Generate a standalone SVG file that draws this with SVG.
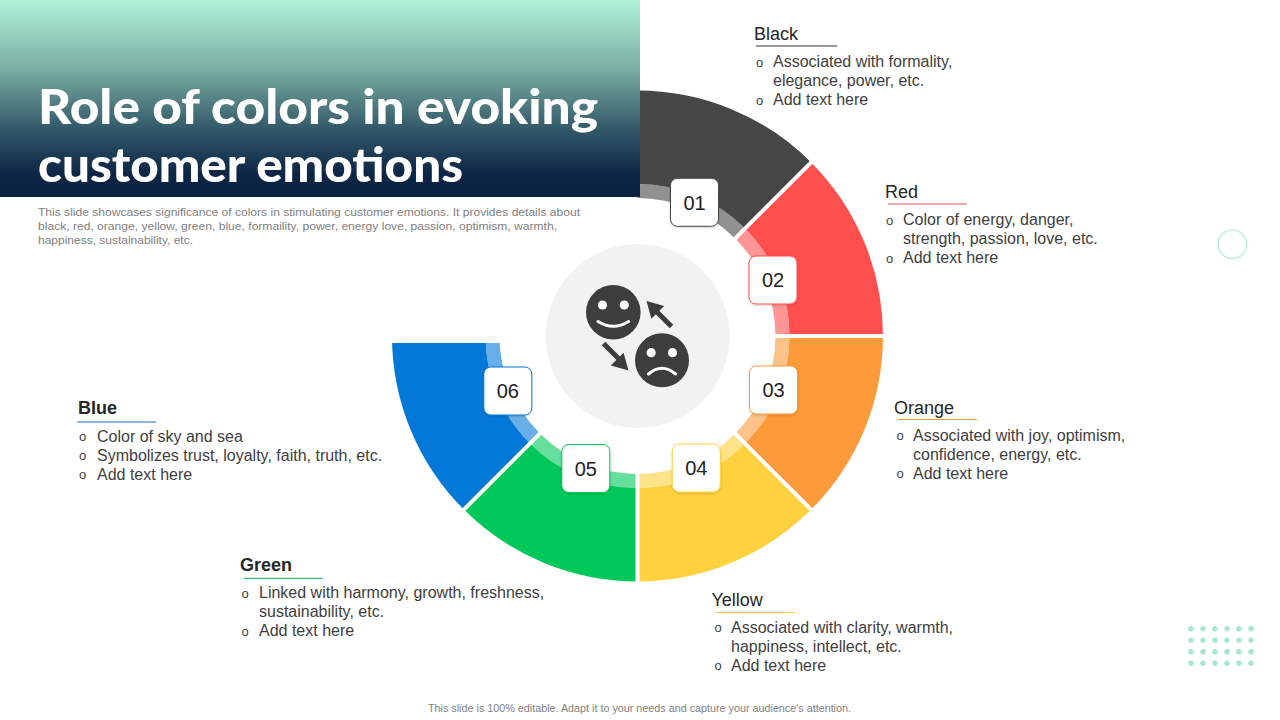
<svg xmlns="http://www.w3.org/2000/svg" width="1280" height="720" viewBox="0 0 1280 720">
<defs>
<linearGradient id="tg" x1="0" y1="0" x2="0" y2="1">
<stop offset="0" stop-color="#aef2d6"/>
<stop offset="0.35" stop-color="#7aaea2"/>
<stop offset="0.65" stop-color="#335a6a"/>
<stop offset="0.88" stop-color="#0d2645"/>
<stop offset="1" stop-color="#0b2242"/>
</linearGradient>
<filter id="sh" x="-20%" y="-20%" width="140%" height="140%">
<feDropShadow dx="0" dy="1" stdDeviation="1" flood-color="#000" flood-opacity="0.18"/>
</filter>
</defs>
<style>
.txt{font-family:"Liberation Sans",Arial,sans-serif;fill:#404040;font-size:16px}
.hd{font-family:"Liberation Sans",Arial,sans-serif;fill:#262626;font-size:18px}
.hdb{font-weight:bold}
.bul{font-family:"Liberation Sans",Arial,sans-serif;fill:#404040;font-size:13px}
.num{font-family:"Liberation Sans",Arial,sans-serif;fill:#222;font-size:20px;text-anchor:middle}
.box{fill:#fff;stroke-width:1}
.lt{fill-opacity:0.6}
.sep{stroke:#fff;stroke-width:4}
.face{fill:#3d3d3d}
.desc{font-family:"Liberation Sans",Arial,sans-serif;fill:#7f7f7f;font-size:11px}
.ttl{font-family:Lato,"Open Sans",sans-serif;font-weight:900;font-size:48px;fill:#fff}
</style>
<rect width="1280" height="720" fill="#fff"/>

<g id="ring">
<g id="seg-black" fill="#474747">
<path d="M637.5,90.5 A245.5,245.5 0 0 1 811.1,162.4 L744.98,228.52 A152,152 0 0 0 637.5,184 Z"/>
<path class="lt" d="M637.5,184 A152,152 0 0 1 744.98,228.52 L735.08,238.42 A138,138 0 0 0 637.5,198 Z"/>
</g>
<g id="seg-red" fill="#ff4f4f">
<path d="M811.1,162.4 A245.5,245.5 0 0 1 883,336 L789.5,336 A152,152 0 0 0 744.98,228.52 Z"/>
<path class="lt" d="M744.98,228.52 A152,152 0 0 1 789.5,336 L775.5,336 A138,138 0 0 0 735.08,238.42 Z"/>
</g>
<g id="seg-orange" fill="#fd9b3b">
<path d="M883,336 A245.5,245.5 0 0 1 811.1,509.6 L744.98,443.48 A152,152 0 0 0 789.5,336 Z"/>
<path class="lt" d="M789.5,336 A152,152 0 0 1 744.98,443.48 L735.08,433.58 A138,138 0 0 0 775.5,336 Z"/>
</g>
<g id="seg-yellow" fill="#ffd13e">
<path d="M811.1,509.6 A245.5,245.5 0 0 1 637.5,581.5 L637.5,488 A152,152 0 0 0 744.98,443.48 Z"/>
<path class="lt" d="M744.98,443.48 A152,152 0 0 1 637.5,488 L637.5,474 A138,138 0 0 0 735.08,433.58 Z"/>
</g>
<g id="seg-green" fill="#00c85a">
<path d="M637.5,581.5 A245.5,245.5 0 0 1 463.9,509.6 L530.02,443.48 A152,152 0 0 0 637.5,488 Z"/>
<path class="lt" d="M637.5,488 A152,152 0 0 1 530.02,443.48 L539.92,433.58 A138,138 0 0 0 637.5,474 Z"/>
</g>
<g id="seg-blue" fill="#0279d8">
<path d="M463.9,509.6 A245.5,245.5 0 0 1 392,336 L485.5,336 A152,152 0 0 0 530.02,443.48 Z"/>
<path class="lt" d="M530.02,443.48 A152,152 0 0 1 485.5,336 L499.5,336 A138,138 0 0 0 539.92,433.58 Z"/>
</g>
</g>

<g id="connectors">
<line class="sep" x1="728.4" y1="245.1" x2="815.7" y2="157.8"/>
<line class="sep" x1="766" y1="336" x2="890" y2="336"/>
<line class="sep" x1="728.4" y1="426.9" x2="815.7" y2="514.2"/>
<line class="sep" x1="637.5" y1="464" x2="637.5" y2="590"/>
<line class="sep" x1="546.6" y1="426.9" x2="459.3" y2="514.2"/>
<rect x="385" y="328" width="125" height="15" fill="#fff"/>
</g>

<g id="center">
<circle cx="637.8" cy="336" r="92" fill="#f2f2f2"/>
<circle class="face" cx="613.3" cy="312.2" r="27.3"/>
<circle cx="602.5" cy="305" r="4.6" fill="#fff"/>
<circle cx="624.3" cy="305" r="4.6" fill="#fff"/>
<path d="M598,321.5 Q613.3,331 628.6,321.5" fill="none" stroke="#fff" stroke-width="3" stroke-linecap="round"/>
<circle class="face" cx="662" cy="360.3" r="27"/>
<circle cx="651.2" cy="352.7" r="4.6" fill="#fff"/>
<circle cx="672.5" cy="352.7" r="4.6" fill="#fff"/>
<path d="M648.5,374 Q662,362.5 675.5,374" fill="none" stroke="#fff" stroke-width="3" stroke-linecap="round"/>
<line x1="671.5" y1="326.5" x2="655" y2="310" stroke="#3d3d3d" stroke-width="5"/>
<polygon class="face" points="646.5,301 664.2,305.9 651.4,318.7"/>
<line x1="603.5" y1="343.5" x2="620" y2="360" stroke="#3d3d3d" stroke-width="5"/>
<polygon class="face" points="628.5,370.5 610.8,365.6 623.6,352.8"/>
</g>

<g id="box-01"><rect class="box" x="670.5" y="178.3" width="48" height="48" rx="7" stroke="#474747" filter="url(#sh)"/><text class="num" x="694.5" y="209.5">01</text></g>
<g id="box-02"><rect class="box" x="749" y="256" width="48" height="48" rx="7" stroke="#ff4f4f" filter="url(#sh)"/><text class="num" x="773" y="287.2">02</text></g>
<g id="box-03"><rect class="box" x="749.5" y="366" width="48" height="48" rx="7" stroke="#fd9b3b" filter="url(#sh)"/><text class="num" x="773.5" y="397.2">03</text></g>
<g id="box-04"><rect class="box" x="672.3" y="444" width="48" height="48" rx="7" stroke="#ffd13e" filter="url(#sh)"/><text class="num" x="696.3" y="475.2">04</text></g>
<g id="box-05"><rect class="box" x="561.8" y="444.5" width="48" height="48" rx="7" stroke="#00c85a" filter="url(#sh)"/><text class="num" x="585.8" y="475.7">05</text></g>
<g id="box-06"><rect class="box" x="483.8" y="367" width="48" height="48" rx="7" stroke="#0279d8" filter="url(#sh)"/><text class="num" x="507.8" y="398.2">06</text></g>

<g id="title">
<rect x="0" y="0" width="640" height="197" fill="url(#tg)"/>
<text class="ttl" x="38" y="124" textLength="560" lengthAdjust="spacingAndGlyphs">Role of colors in evoking</text>
<text class="ttl" x="38" y="181.6" textLength="425" lengthAdjust="spacingAndGlyphs">customer emotions</text>
<text class="desc" x="38" y="216" textLength="542" lengthAdjust="spacingAndGlyphs">This slide showcases significance of colors in stimulating customer emotions. It provides details about</text>
<text class="desc" x="38" y="230" textLength="519" lengthAdjust="spacingAndGlyphs">black, red, orange, yellow, green, blue, formaility, power, energy love,  passion, optimism, warmth,</text>
<text class="desc" x="38" y="244" textLength="155" lengthAdjust="spacingAndGlyphs">happiness, sustainability, etc.</text>
</g>

<g id="label-black">
<text class="hd" x="754" y="40">Black</text>
<line x1="756" y1="46" x2="837" y2="46" stroke="#333" stroke-width="1"/>
<text class="bul" x="756" y="66.5">o</text><text class="txt" x="773" y="67">Associated with formality,</text>
<text class="txt" x="773" y="86">elegance, power, etc.</text>
<text class="bul" x="756" y="104.5">o</text><text class="txt" x="773" y="105">Add text here</text>
</g>

<g id="label-red">
<text class="hd" x="885" y="198">Red</text>
<line x1="888" y1="204" x2="967" y2="204" stroke="#e05a5a" stroke-width="1"/>
<text class="bul" x="886" y="224.5">o</text><text class="txt" x="903" y="225">Color of energy,  danger,</text>
<text class="txt" x="903" y="244">strength,  passion, love,  etc.</text>
<text class="bul" x="886" y="262.5">o</text><text class="txt" x="903" y="263">Add text here</text>
</g>

<g id="label-orange">
<text class="hd" x="894" y="413.5">Orange</text>
<line x1="898" y1="419.5" x2="977" y2="419.5" stroke="#e8a03c" stroke-width="1"/>
<text class="bul" x="896.5" y="440">o</text><text class="txt" x="913" y="440.5">Associated with joy,  optimism,</text>
<text class="txt" x="913" y="459.5">confidence,  energy,  etc.</text>
<text class="bul" x="896.5" y="478">o</text><text class="txt" x="913" y="478.5">Add text here</text>
</g>

<g id="label-yellow">
<text class="hd" x="711.5" y="606">Yellow</text>
<line x1="715" y1="612.5" x2="795" y2="612.5" stroke="#f2c94c" stroke-width="1"/>
<text class="bul" x="714.5" y="632">o</text><text class="txt" x="731" y="632.5">Associated with clarity,  warmth,</text>
<text class="txt" x="731" y="651.5">happiness,  intellect,  etc.</text>
<text class="bul" x="714.5" y="670">o</text><text class="txt" x="731" y="670.5">Add text here</text>
</g>

<g id="label-green">
<text class="hd hdb" x="240" y="571">Green</text>
<line x1="244" y1="578.3" x2="323" y2="578.3" stroke="#00b050" stroke-width="1"/>
<text class="bul" x="241.5" y="597.5">o</text><text class="txt" x="259" y="598">Linked with harmony,  growth,  freshness,</text>
<text class="txt" x="259" y="617">sustainability,  etc.</text>
<text class="bul" x="241.5" y="635.5">o</text><text class="txt" x="259" y="636">Add text here</text>
</g>

<g id="label-blue">
<text class="hd hdb" x="78" y="414">Blue</text>
<line x1="77" y1="422" x2="156" y2="422" stroke="#1f6fc0" stroke-width="1"/>
<text class="bul" x="79" y="441">o</text><text class="txt" x="97" y="441.5">Color of sky and sea</text>
<text class="bul" x="79" y="460">o</text><text class="txt" x="97" y="460.5">Symbolizes trust,  loyalty,  faith,  truth,  etc.</text>
<text class="bul" x="79" y="479">o</text><text class="txt" x="97" y="479.5">Add text here</text>
</g>

<g id="decor">
<circle cx="1232.3" cy="244.3" r="14.3" fill="none" stroke="#aee8d6" stroke-width="1.2"/>
<g fill="#a6e8cf">
<circle cx="1191" cy="628.7" r="2.7"/><circle cx="1203" cy="628.7" r="2.7"/><circle cx="1215" cy="628.7" r="2.7"/><circle cx="1227" cy="628.7" r="2.7"/><circle cx="1239" cy="628.7" r="2.7"/><circle cx="1251" cy="628.7" r="2.7"/>
<circle cx="1191" cy="640.2" r="2.7"/><circle cx="1203" cy="640.2" r="2.7"/><circle cx="1215" cy="640.2" r="2.7"/><circle cx="1227" cy="640.2" r="2.7"/><circle cx="1239" cy="640.2" r="2.7"/><circle cx="1251" cy="640.2" r="2.7"/>
<circle cx="1191" cy="651.7" r="2.7"/><circle cx="1203" cy="651.7" r="2.7"/><circle cx="1215" cy="651.7" r="2.7"/><circle cx="1227" cy="651.7" r="2.7"/><circle cx="1239" cy="651.7" r="2.7"/><circle cx="1251" cy="651.7" r="2.7"/>
<circle cx="1191" cy="663.2" r="2.7"/><circle cx="1203" cy="663.2" r="2.7"/><circle cx="1215" cy="663.2" r="2.7"/><circle cx="1227" cy="663.2" r="2.7"/><circle cx="1239" cy="663.2" r="2.7"/><circle cx="1251" cy="663.2" r="2.7"/>
</g>
</g>

<text class="desc" x="639.5" y="711.5" font-size="10" text-anchor="middle" textLength="423" lengthAdjust="spacingAndGlyphs">This slide is 100% editable.  Adapt it to your needs and capture your audience's attention.</text>
</svg>
